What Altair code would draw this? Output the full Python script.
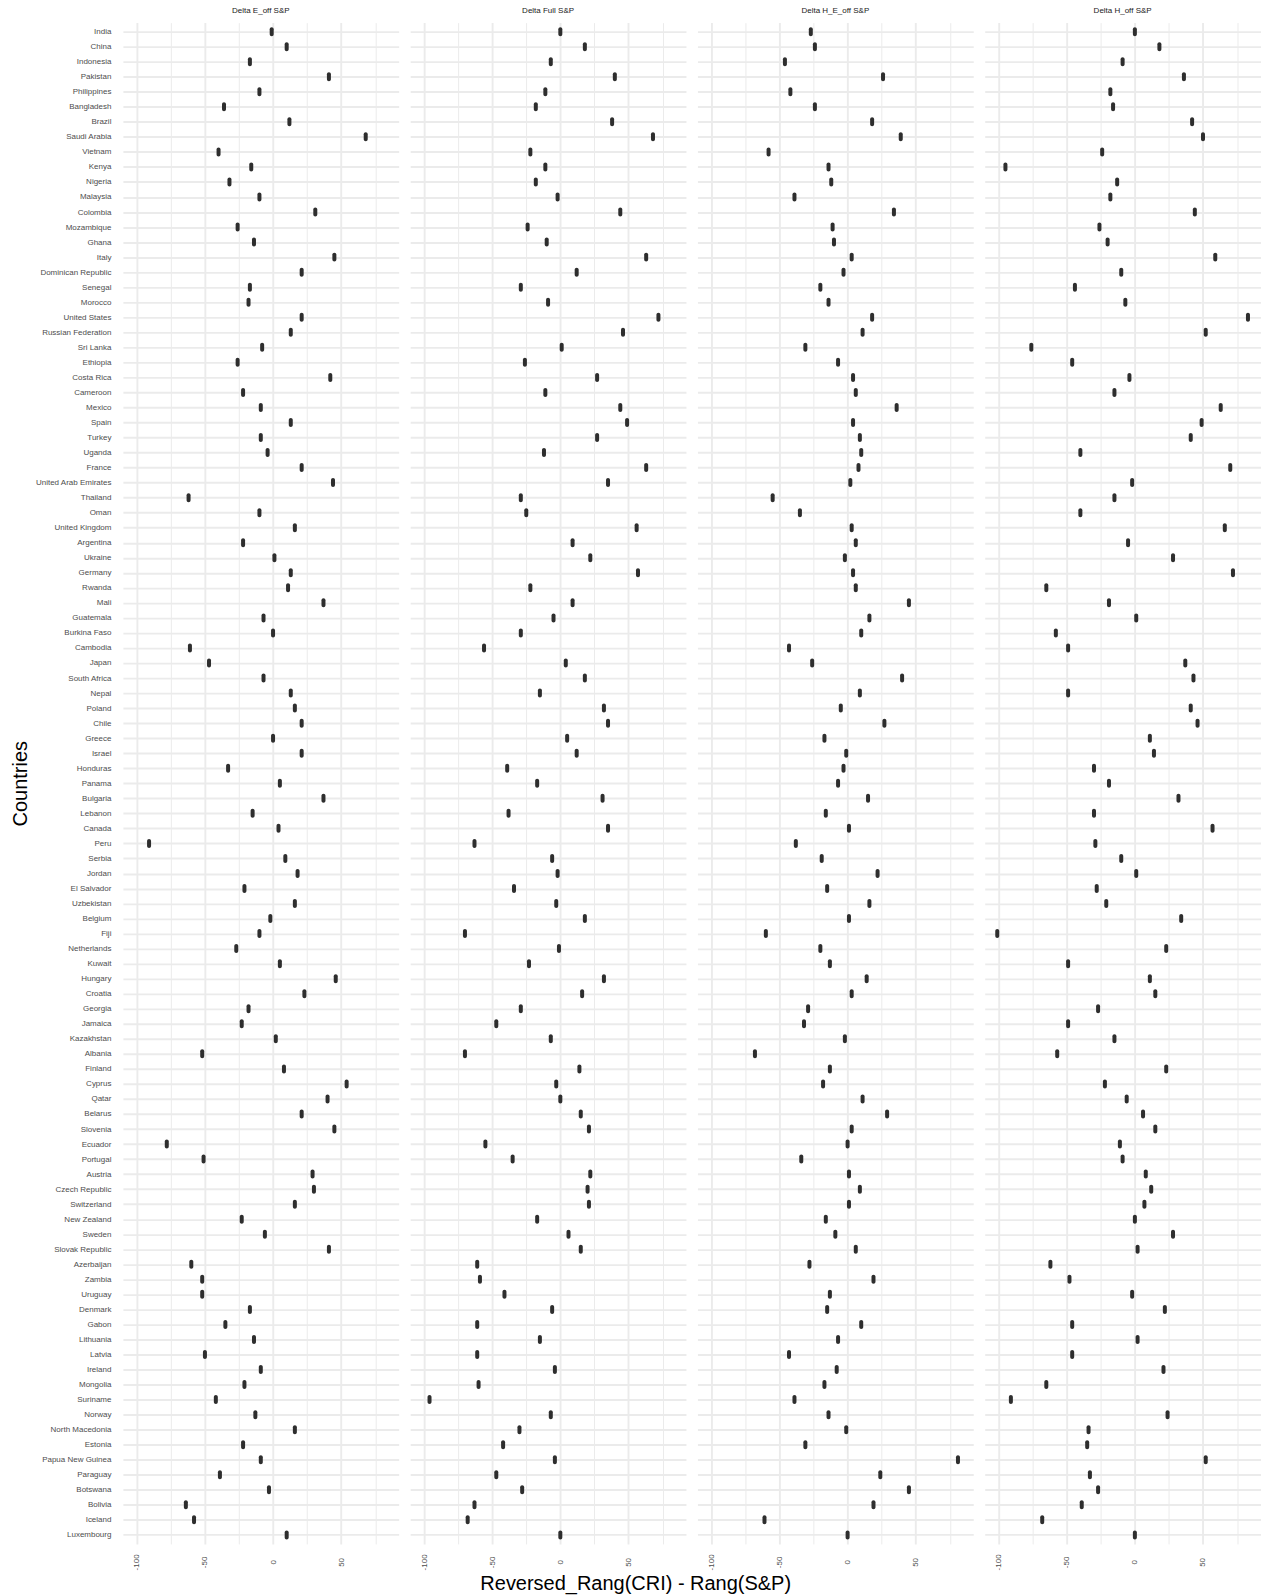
import altair as alt
import pandas as pd

countries = [
    "India", "China", "Indonesia", "Pakistan", "Philippines", "Bangladesh", "Brazil",
    "Saudi Arabia", "Vietnam", "Kenya", "Nigeria", "Malaysia", "Colombia", "Mozambique",
    "Ghana", "Italy", "Dominican Republic", "Senegal", "Morocco", "United States",
    "Russian Federation", "Sri Lanka", "Ethiopia", "Costa Rica", "Cameroon", "Mexico",
    "Spain", "Turkey", "Uganda", "France", "United Arab Emirates", "Thailand", "Oman",
    "United Kingdom", "Argentina", "Ukraine", "Germany", "Rwanda", "Mali", "Guatemala",
    "Burkina Faso", "Cambodia", "Japan", "South Africa", "Nepal", "Poland", "Chile",
    "Greece", "Israel", "Honduras", "Panama", "Bulgaria", "Lebanon", "Canada", "Peru",
    "Serbia", "Jordan", "El Salvador", "Uzbekistan", "Belgium", "Fiji", "Netherlands",
    "Kuwait", "Hungary", "Croatia", "Georgia", "Jamaica", "Kazakhstan", "Albania",
    "Finland", "Cyprus", "Qatar", "Belarus", "Slovenia", "Ecuador", "Portugal", "Austria",
    "Czech Republic", "Switzerland", "New Zealand", "Sweden", "Slovak Republic",
    "Azerbaijan", "Zambia", "Uruguay", "Denmark", "Gabon", "Lithuania", "Latvia",
    "Ireland", "Mongolia", "Suriname", "Norway", "North Macedonia", "Estonia",
    "Papua New Guinea", "Paraguay", "Botswana", "Bolivia", "Iceland", "Luxembourg",
]

panels = ["Delta E_off S&P", "Delta Full S&P", "Delta H_E_off S&P", "Delta H_off S&P"]

delta_e_off = [
    -1, 10, -17, 41, -10, -36, 12, 68, -40, -16, -32, -10, 31, -26, -14, 45, 21, -17, -18, 21,
    13, -8, -26, 42, -22, -9, 13, -9, -4, 21, 44, -62, -10, 16, -22, 1, 13, 11, 37, -7,
    0, -61, -47, -7, 13, 16, 21, 0, 21, -33, 5, 37, -15, 4, -91, 9, 18, -21, 16, -2,
    -10, -27, 5, 46, 23, -18, -23, 2, -52, 8, 54, 40, 21, 45, -78, -51, 29, 30, 16, -23,
    -6, 41, -60, -52, -52, -17, -35, -14, -50, -9, -21, -42, -13, 16, -22, -9, -39, -3,
    -64, -58, 10,
]

delta_full = [
    0, 18, -7, 40, -11, -18, 38, 68, -22, -11, -18, -2, 44, -24, -10, 63, 12, -29, -9, 72,
    46, 1, -26, 27, -11, 44, 49, 27, -12, 63, 35, -29, -25, 56, 9, 22, 57, -22, 9, -5,
    -29, -56, 4, 18, -15, 32, 35, 5, 12, -39, -17, 31, -38, 35, -63, -6, -2, -34, -3, 18,
    -70, -1, -23, 32, 16, -29, -47, -7, -70, 14, -3, 0, 15, 21, -55, -35, 22, 20, 21, -17,
    6, 15, -61, -59, -41, -6, -61, -15, -61, -4, -60, -96, -7, -30, -42, -4, -47, -28,
    -63, -68, 0,
]

delta_h_e_off = [
    -27, -24, -46, 26, -42, -24, 18, 39, -58, -14, -12, -39, 34, -11, -10, 3, -3, -20, -14, 18,
    11, -31, -7, 4, 6, 36, 4, 9, 10, 8, 2, -55, -35, 3, 6, -2, 4, 6, 45, 16,
    10, -43, -26, 40, 9, -5, 27, -17, -1, -3, -7, 15, -16, 1, -38, -19, 22, -15, 16, 1,
    -60, -20, -13, 14, 3, -29, -32, -2, -68, -13, -18, 11, 29, 3, 0, -34, 1, 9, 1, -16,
    -9, 6, -28, 19, -13, -15, 10, -7, -43, -8, -17, -39, -14, -1, -31, 81, 24, 45,
    19, -61, 0,
]

delta_h_off = [
    0, 18, -9, 36, -18, -16, 42, 50, -24, -95, -13, -18, 44, -26, -20, 59, -10, -44, -7, 83,
    52, -76, -46, -4, -15, 63, 49, 41, -40, 70, -2, -15, -40, 66, -5, 28, 72, -65, -19, 1,
    -58, -49, 37, 43, -49, 41, 46, 11, 14, -30, -19, 32, -30, 57, -29, -10, 1, -28, -21, 34,
    -101, 23, -49, 11, 15, -27, -49, -15, -57, 23, -22, -6, 6, 15, -11, -9, 8, 12, 7, 0,
    28, 2, -62, -48, -2, 22, -46, 2, -46, 21, -65, -91, 24, -34, -35, 52, -33, -27,
    -39, -68, 0,
]

# Long table: one row per country and panel
records = []
for panel, values in zip(panels, [delta_e_off, delta_full, delta_h_e_off, delta_h_off]):
    for country, value in zip(countries, values):
        records.append({"country": country, "panel": panel, "delta": value})
df = pd.DataFrame(records)

FONT = "Liberation Sans"
GRID = "#ebebeb"
grid_values = [-100, -75, -50, -25, 0, 25, 50, 75]

x_axis = alt.Axis(
    values=grid_values,
    labelExpr="datum.value % 50 === 0 ? '' + datum.value : ''",
    labelAngle=270,
    labelAlign="center",
    labelBaseline="middle",
    labelPadding=17.5,
    labelFontSize=8,
    labelFont=FONT,
    labelColor="#4d4d4d",
    labelFlush=False,
    labelOverlap=False,
    ticks=False,
    domain=False,
    grid=True,
    gridColor=GRID,
    gridWidth={"condition": {"test": "datum.value % 50 === 0", "value": 1.9}, "value": 1.0},
    title=None,
)

y_axis = alt.Axis(
    title="Countries",
    titleFont=FONT,
    titleFontSize=20,
    titleFontWeight="normal",
    titleColor="#000000",
    titlePadding=4,
    labelFont=FONT,
    labelFontSize=8,
    labelColor="#4d4d4d",
    labelPadding=12,
    ticks=False,
    domain=False,
    grid=True,
    gridColor=GRID,
    gridWidth=1.9,
)

strip = alt.Chart(df).mark_tick(
    color="#2e2e2e", thickness=4, size=9, cornerRadius=2, opacity=1
).encode(
    x=alt.X("delta:Q", scale=alt.Scale(domain=[-110.2, 92.2], nice=False, zero=False), axis=x_axis),
    y=alt.Y("country:N", sort=countries, scale=alt.Scale(type="point", padding=0.6), axis=y_axis),
).properties(width=276, height=1522.5)

chart = strip.facet(
    column=alt.Column(
        "panel:N",
        sort=panels,
        header=alt.Header(
            title=None,
            labelFont=FONT,
            labelFontSize=8,
            labelColor="#1a1a1a",
            labelPadding=8,
        ),
    ),
    spacing=11.5,
).properties(
    title=alt.TitleParams(
        "Reversed_Rang(CRI) - Rang(S&P)",
        orient="bottom",
        anchor="middle",
        font=FONT,
        fontSize=20,
        fontWeight="normal",
        color="#000000",
        offset=4.5,
    ),
    padding={"left": 10, "top": 6, "right": 0, "bottom": 0},
    background="white",
).configure_view(strokeWidth=0)

chart.save("out.html", embed_options={"renderer": "svg", "actions": False})
